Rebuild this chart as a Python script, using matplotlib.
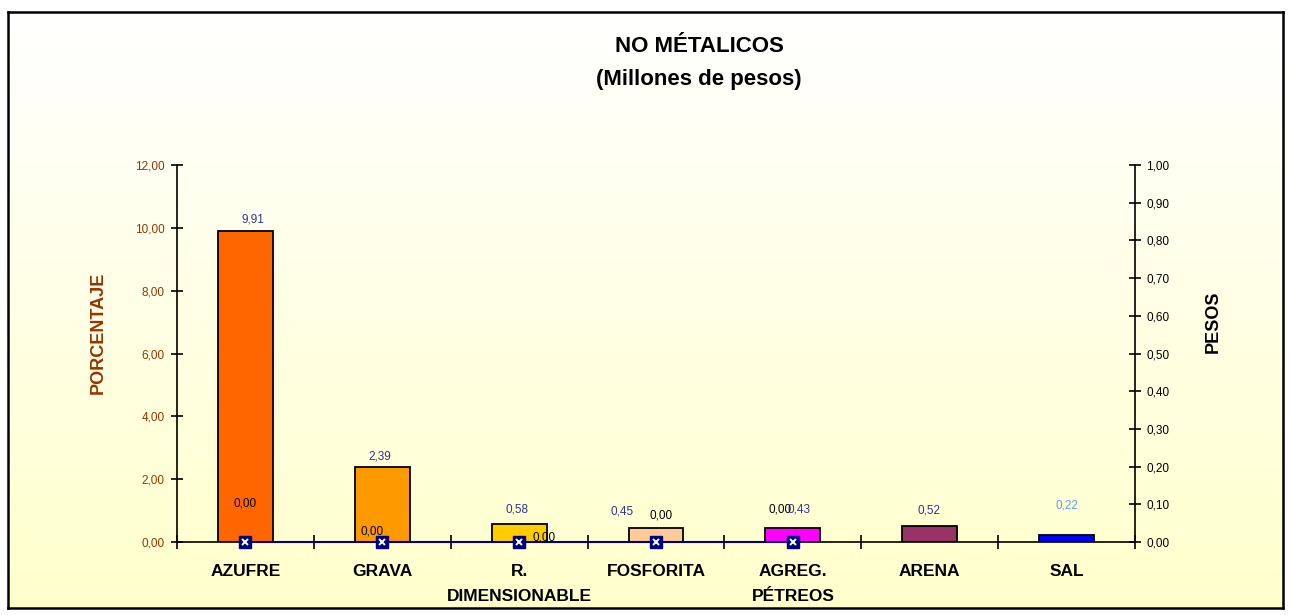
import numpy as np
import matplotlib
matplotlib.use("Agg")
import matplotlib.pyplot as plt
from matplotlib.ticker import FuncFormatter

plt.rcParams['font.family'] = ['Liberation Sans', 'DejaVu Sans']

categories = ["AZUFRE", "GRAVA", "R.\nDIMENSIONABLE", "FOSFORITA", "AGREG.\nPÉTREOS", "ARENA", "SAL"]
porcentaje = [9.91, 2.39, 0.58, 0.45, 0.43, 0.52, 0.22]
pesos = [0.00, 0.00, 0.00, 0.00, 0.00]
bar_colors = ["#FF6600", "#FF9900", "#FFCC00", "#FFCC99", "#FF00FF", "#993366", "#0000FF"]
left_ticks = [0, 2, 4, 6, 8, 10, 12]
right_ticks = [0.0, 0.1, 0.2, 0.3, 0.4, 0.5, 0.6, 0.7, 0.8, 0.9, 1.0]

# label offsets in pixels (style only)
PX = 0.72
bar_label_off = [(8, 5), (-2, 4), (-2, 8), (-34, 10), (6, 13), (-1, 9), (0, 24)]
bar_label_col = ["#333399"] * 6 + ["#6699FF"]
line_label_off = [(0, 32), (-10, 4), (25, -1), (5, 21), (-13, 26)]

W, H = 1290, 615
fig = plt.figure(figsize=(W / 100, H / 100), dpi=100)

# background box with gradient
bg = fig.add_axes([8 / W, 1 - 608 / H, (1283 - 8) / W, (608 - 12) / H])
grad = np.linspace(0, 1, 256).reshape(-1, 1)
c_top = np.array([1.0, 1.0, 1.0])
c_bot = np.array([1.0, 1.0, 0.80])
img = c_top[None, None, :] * (1 - grad[:, :, None]) + c_bot[None, None, :] * grad[:, :, None]
bg.imshow(img, aspect='auto', extent=[0, 1, 0, 1])
bg.set_xticks([]); bg.set_yticks([])
for s in bg.spines.values():
    s.set_linewidth(1.8)
    s.set_color('black')

ax = fig.add_axes([177 / W, 1 - 542 / H, (1135 - 177) / W, (542 - 165) / H])
ax.patch.set_alpha(0)
x = np.arange(len(categories))
bars = ax.bar(x, porcentaje, width=0.4, color=bar_colors, edgecolor='black', linewidth=1.3, zorder=2)
ax.set_xlim(-0.5, len(categories) - 0.5)
ax.set_ylim(0, 12)
ax.set_yticks(left_ticks)
ax.yaxis.set_major_formatter(FuncFormatter(lambda v, p: f"{v:.2f}".replace('.', ',')))
ax.tick_params(axis='y', direction='inout', length=8, width=1.2, labelsize=8.5, colors='black', labelcolor='#993300', pad=5)
ax.set_xticks(x)
ax.set_xticklabels(categories, fontsize=12.5, fontweight='bold', linespacing=1.8)
ax.tick_params(axis='x', length=0, pad=16)
ax.set_xticks(np.arange(len(categories) + 1) - 0.5, minor=True)
ax.tick_params(axis='x', which='minor', direction='inout', length=10, width=1.2)
for s in ['top', 'right']:
    ax.spines[s].set_visible(False)
for s in ['left', 'bottom']:
    ax.spines[s].set_linewidth(1.2)

for i, b in enumerate(bars):
    ox, oy = bar_label_off[i]
    ax.annotate(f"{porcentaje[i]:.2f}".replace('.', ','), (b.get_x() + b.get_width() / 2, b.get_height()),
                xytext=(ox * PX, oy * PX), textcoords='offset points', ha='center', va='bottom',
                fontsize=8.5, color=bar_label_col[i], zorder=5)

ax2 = ax.twinx()
ax2.set_ylim(0, 1.0)
ax2.set_yticks(right_ticks)
ax2.yaxis.set_major_formatter(FuncFormatter(lambda v, p: f"{v:.2f}".replace('.', ',')))
ax2.tick_params(axis='y', direction='inout', length=8, width=1.2, labelsize=8.5, colors='black', pad=4)
for s in ['top', 'left', 'bottom']:
    ax2.spines[s].set_visible(False)
ax2.spines['right'].set_linewidth(1.2)
xl = np.arange(len(pesos))
ax2.plot(xl, pesos, color='#000080', linewidth=1.5, zorder=3, clip_on=False)
ax2.plot(xl, pesos, linestyle='none', marker='s', markersize=9, color='#000080', zorder=4, clip_on=False)
ax2.plot(xl, pesos, linestyle='none', marker='x', markersize=5, markeredgewidth=1.4, color='white', zorder=5, clip_on=False)
for i, v in enumerate(pesos):
    ox, oy = line_label_off[i]
    ax2.annotate(f"{v:.2f}".replace('.', ','), (xl[i], v), xytext=(ox * PX, oy * PX), textcoords='offset points',
                 ha='center', va='bottom', fontsize=8.5, color='black', zorder=6)

fig.text(98 / W, 1 - 333 / H, "PORCENTAJE", ha='center', va='center', rotation=90,
         fontsize=13, fontweight='bold', color='#993300')
fig.text(1213 / W, 1 - 322 / H, "PESOS", ha='center', va='center', rotation=90,
         fontsize=13, fontweight='bold', color='black')

fig.text(699 / W, 1 - 46 / H, "NO MÉTALICOS", ha='center', va='center', fontsize=16, fontweight='bold')
fig.text(699 / W, 1 - 79 / H, "(Millones de pesos)", ha='center', va='center', fontsize=16, fontweight='bold')

fig.savefig("out.png", dpi=100)
